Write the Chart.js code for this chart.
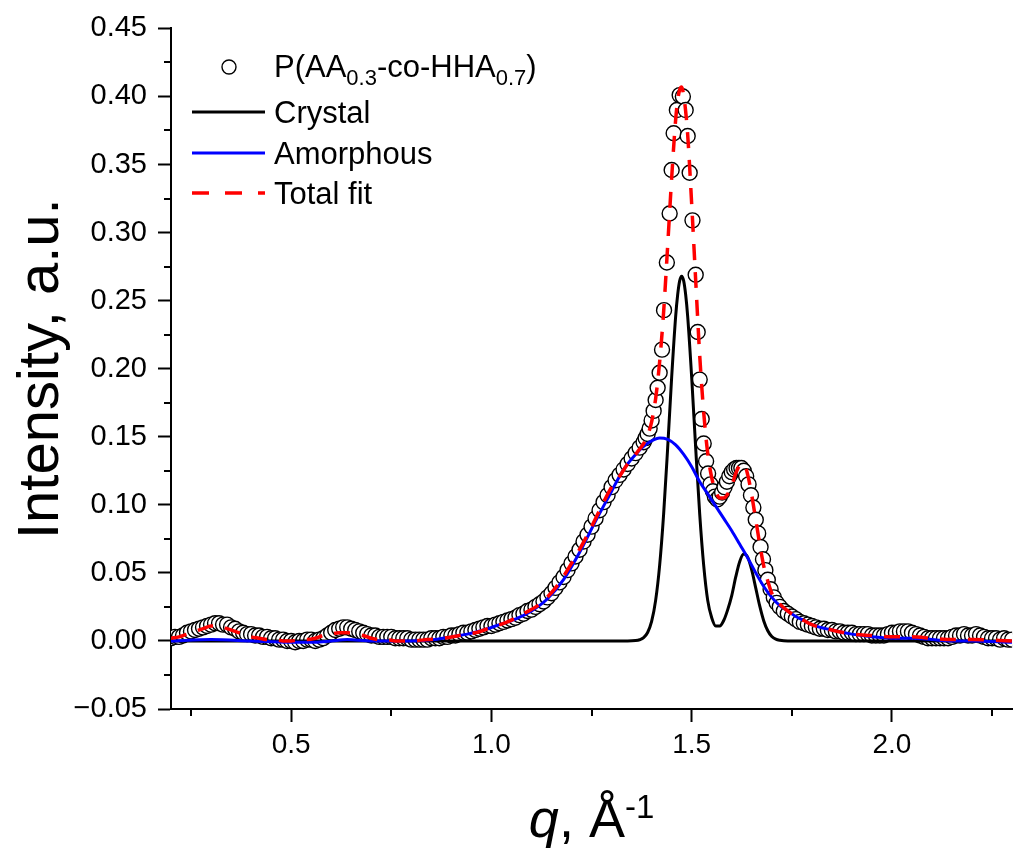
<!DOCTYPE html>
<html>
<head>
<meta charset="utf-8">
<script src="https://cdn.jsdelivr.net/npm/chart.js@4/dist/chart.umd.min.js"></script>
<style>
  html, body { margin: 0; padding: 0; background: #fff; overflow: hidden; }
</style>
</head>
<body>
<canvas id="xrdChart" width="1021" height="848"></canvas>
<script>
// Measured scattering profile (open circles), q in 1/Å
const qData = [
  0.20, 0.21, 0.22, 0.23, 0.24, 0.25, 0.26, 0.27, 0.28, 0.29,
  0.30, 0.31, 0.32, 0.33, 0.34, 0.35, 0.36, 0.37, 0.38, 0.39,
  0.40, 0.41, 0.42, 0.43, 0.44, 0.45, 0.46, 0.47, 0.48, 0.49,
  0.50, 0.51, 0.52, 0.53, 0.54, 0.55, 0.56, 0.57, 0.58, 0.59,
  0.60, 0.61, 0.62, 0.63, 0.64, 0.65, 0.66, 0.67, 0.68, 0.69,
  0.70, 0.71, 0.72, 0.73, 0.74, 0.75, 0.76, 0.77, 0.78, 0.79,
  0.80, 0.81, 0.82, 0.83, 0.84, 0.85, 0.86, 0.87, 0.88, 0.89,
  0.90, 0.91, 0.92, 0.93, 0.94, 0.95, 0.96, 0.97, 0.98, 0.99,
  1.00, 1.01, 1.02, 1.03, 1.04, 1.05, 1.06, 1.07, 1.08, 1.09,
  1.10, 1.11, 1.12, 1.13, 1.14, 1.15, 1.16, 1.17, 1.18, 1.19,
  1.20, 1.21, 1.22, 1.23, 1.24, 1.25, 1.26, 1.27, 1.28, 1.29,
  1.30, 1.31, 1.32, 1.33, 1.34, 1.35, 1.36, 1.37, 1.38,
  1.385, 1.390, 1.395, 1.400, 1.405, 1.410, 1.415, 1.420, 1.426, 1.431,
  1.438, 1.445, 1.450, 1.455, 1.463, 1.470, 1.478, 1.485, 1.490, 1.495,
  1.502, 1.510, 1.515, 1.520, 1.525, 1.530, 1.536, 1.541, 1.547, 1.553,
  1.558, 1.564, 1.570, 1.576, 1.582, 1.588, 1.594, 1.600, 1.606, 1.612,
  1.618, 1.624, 1.630, 1.636, 1.642, 1.648, 1.654, 1.660, 1.666, 1.672,
  1.678, 1.684, 1.690, 1.697, 1.705, 1.712,
  1.72, 1.73, 1.74, 1.75, 1.76, 1.77, 1.78, 1.79, 1.80, 1.81,
  1.82, 1.83, 1.84, 1.85, 1.86, 1.87, 1.88, 1.89, 1.90, 1.91,
  1.92, 1.93, 1.94, 1.95, 1.96, 1.97, 1.98, 1.99, 2.00, 2.01,
  2.02, 2.03, 2.04, 2.05, 2.06, 2.07, 2.08, 2.09, 2.10, 2.11,
  2.12, 2.13, 2.14, 2.15, 2.16, 2.17, 2.18, 2.19, 2.20, 2.21,
  2.22, 2.23, 2.24, 2.25, 2.26, 2.27, 2.28, 2.29, 2.30
];
const intensity = [
  0.002, 0.003, 0.003, 0.004, 0.006, 0.007, 0.008, 0.009, 0.010, 0.011,
  0.012, 0.013, 0.013, 0.012, 0.012, 0.010, 0.009, 0.007, 0.006, 0.005,
  0.005, 0.004, 0.004, 0.003, 0.003, 0.002, 0.002, 0.001, 0.001, 0.000,
  0.000, -0.001, 0.000, 0.000, 0.001, 0.001, 0.000, 0.001, 0.002, 0.004,
  0.006, 0.008, 0.009, 0.010, 0.010, 0.009, 0.008, 0.007, 0.006, 0.005,
  0.004, 0.004, 0.003, 0.003, 0.003, 0.003, 0.002, 0.002, 0.002, 0.002,
  0.001, 0.001, 0.001, 0.001, 0.001, 0.002, 0.002, 0.002, 0.003, 0.003,
  0.004, 0.004, 0.005, 0.006, 0.006, 0.007, 0.008, 0.009, 0.010, 0.011,
  0.011, 0.012, 0.013, 0.014, 0.015, 0.016, 0.017, 0.019, 0.020, 0.022,
  0.023, 0.025, 0.027, 0.029, 0.032, 0.035, 0.039, 0.043, 0.047, 0.052,
  0.057, 0.062, 0.067, 0.073, 0.078, 0.084, 0.090, 0.096, 0.102, 0.107,
  0.113, 0.118, 0.122, 0.126, 0.130, 0.134, 0.138, 0.142, 0.146,
  0.149, 0.152, 0.156, 0.162, 0.169, 0.177, 0.186, 0.197, 0.214, 0.243,
  0.278, 0.314, 0.346, 0.373, 0.390, 0.401, 0.400, 0.390, 0.371, 0.344,
  0.309, 0.269, 0.227, 0.192, 0.163, 0.145, 0.132, 0.123, 0.115, 0.110,
  0.106, 0.104, 0.106, 0.109, 0.113, 0.117, 0.121, 0.124, 0.126, 0.127,
  0.127, 0.127, 0.125, 0.121, 0.115, 0.107, 0.098, 0.089, 0.079, 0.069,
  0.060, 0.052, 0.045, 0.038, 0.032, 0.028,
  0.025, 0.022, 0.020, 0.018, 0.016, 0.014, 0.013, 0.012, 0.011, 0.010,
  0.009, 0.009, 0.008, 0.008, 0.007, 0.007, 0.006, 0.006, 0.006, 0.005,
  0.005, 0.005, 0.005, 0.004, 0.004, 0.004, 0.004, 0.005, 0.006, 0.006,
  0.007, 0.007, 0.007, 0.006, 0.005, 0.004, 0.003, 0.002, 0.002, 0.002,
  0.002, 0.002, 0.002, 0.003, 0.004, 0.004, 0.005, 0.004, 0.004, 0.005,
  0.004, 0.003, 0.002, 0.002, 0.002, 0.001, 0.002, 0.001, 0.001
];

// Crystalline component (two peaks)
const qCrystal = [
  0.20, 1.34, 1.36, 1.37, 1.38, 1.39, 1.40, 1.41, 1.42, 1.43,
  1.44, 1.45, 1.46, 1.465, 1.47, 1.475, 1.48, 1.485, 1.49, 1.50,
  1.51, 1.52, 1.53, 1.54, 1.55, 1.56, 1.57, 1.58, 1.59, 1.60,
  1.61, 1.62, 1.63, 1.64, 1.65, 1.66, 1.67, 1.68, 1.69, 1.70,
  1.71, 1.72, 1.74, 2.30
];
const crystal = [
  0, 0, 0.0003, 0.0009, 0.0024, 0.0062, 0.0143, 0.0298, 0.0555, 0.0934,
  0.1417, 0.1936, 0.2385, 0.2543, 0.2645, 0.268, 0.2645, 0.2543, 0.2385, 0.1936,
  0.1417, 0.0934, 0.0555, 0.0298, 0.017, 0.011, 0.011, 0.015, 0.023, 0.0333,
  0.047, 0.0584, 0.0638, 0.0614, 0.052, 0.0388, 0.0255, 0.0147, 0.0075, 0.0033,
  0.0013, 0.0005, 0, 0
];

// Amorphous halo
const qAmorph = [
  0.20, 0.30, 0.40, 0.50, 0.56, 0.60, 0.64, 0.70, 0.80, 0.86,
  0.90, 0.94, 0.98, 1.02, 1.06, 1.10, 1.14, 1.18, 1.22, 1.26,
  1.30, 1.32, 1.34, 1.36, 1.38, 1.40, 1.42, 1.44, 1.46, 1.48,
  1.50, 1.52, 1.54, 1.56, 1.58, 1.60, 1.62, 1.64, 1.66, 1.68,
  1.70, 1.72, 1.74, 1.76, 1.78, 1.80, 1.85, 1.90, 1.95, 2.00,
  2.05, 2.10, 2.15, 2.20, 2.30
];
const amorph = [
  0.000, 0.001, 0.000, -0.001, -0.001, 0.000, 0.001, 0.000, 0.000, 0.001,
  0.003, 0.005, 0.008, 0.012, 0.016, 0.022, 0.031, 0.045, 0.065, 0.088,
  0.110, 0.121, 0.130, 0.137, 0.143, 0.147, 0.149, 0.148, 0.144, 0.137,
  0.128, 0.117, 0.108, 0.099, 0.090, 0.081, 0.071, 0.061, 0.050, 0.040,
  0.032, 0.026, 0.022, 0.018, 0.015, 0.012, 0.008, 0.005, 0.003, 0.002,
  0.002, 0.001, 0.000, 0.000, -0.001
];

// Total fit
const qFit = [
  0.20, 0.22, 0.24, 0.26, 0.28, 0.30, 0.32, 0.34, 0.36, 0.38,
  0.40, 0.42, 0.44, 0.46, 0.48, 0.50, 0.52, 0.54, 0.56, 0.58,
  0.60, 0.62, 0.64, 0.66, 0.68, 0.70, 0.72, 0.74, 0.76, 0.80,
  0.84, 0.88, 0.92, 0.96, 1.00, 1.04, 1.08, 1.12, 1.16, 1.20,
  1.24, 1.28, 1.30, 1.32, 1.34, 1.36, 1.37, 1.38, 1.39, 1.40,
  1.41, 1.42, 1.43, 1.44, 1.45, 1.46, 1.465, 1.47, 1.475, 1.48,
  1.485, 1.49, 1.50, 1.51, 1.52, 1.53, 1.54, 1.55, 1.56, 1.57,
  1.58, 1.59, 1.60, 1.61, 1.62, 1.63, 1.64, 1.65, 1.66, 1.67,
  1.68, 1.69, 1.70, 1.72, 1.74, 1.76, 1.78, 1.80, 1.85, 1.90,
  1.95, 2.00, 2.05, 2.10, 2.15, 2.20, 2.30
];
const totalFit = [
  0.002, 0.003, 0.005, 0.007, 0.009, 0.011, 0.011, 0.009, 0.007, 0.005,
  0.003, 0.002, 0.001, 0.001, 0.000, 0.000, 0.001, 0.001, 0.002, 0.004,
  0.005, 0.006, 0.006, 0.005, 0.004, 0.002, 0.001, 0.001, 0.000, 0.000,
  0.001, 0.002, 0.004, 0.006, 0.010, 0.014, 0.020, 0.027, 0.039, 0.057,
  0.078, 0.102, 0.113, 0.121, 0.130, 0.137, 0.141, 0.145, 0.151, 0.161,
  0.178, 0.205, 0.242, 0.290, 0.340, 0.383, 0.397, 0.405, 0.407, 0.401,
  0.389, 0.372, 0.321, 0.265, 0.210, 0.168, 0.138, 0.120, 0.110, 0.105,
  0.105, 0.108, 0.114, 0.123, 0.129, 0.130, 0.122, 0.107, 0.089, 0.071,
  0.055, 0.044, 0.035, 0.027, 0.022, 0.018, 0.015, 0.012, 0.008, 0.005,
  0.004, 0.003, 0.003, 0.002, 0.001, 0.001, 0.000
];

// Axis ticks
const xMajorTicks = [0.5, 1.0, 1.5, 2.0];
const xMinorTicks = [0.25, 0.75, 1.25, 1.75, 2.25];
const yMajorTicks = [-0.05, 0.00, 0.05, 0.10, 0.15, 0.20, 0.25, 0.30, 0.35, 0.40, 0.45];
const yMinorTicks = [-0.025, 0.025, 0.075, 0.125, 0.175, 0.225, 0.275, 0.325, 0.375, 0.425];

const FONT = "'Liberation Sans', Arial, Helvetica, sans-serif";
const font = (size, style) => (style ? style + " " : "") + size + "px " + FONT;

const toPoints = (qs, ys) => qs.map((q, i) => ({ x: q, y: ys[i] }));

// Minor ticks, axis titles and the legend (with sub/superscripts)
const decorPlugin = {
  id: "decor",
  afterDraw(chart) {
    const ctx = chart.ctx;
    const xs = chart.scales.x;
    const ys = chart.scales.y;
    const area = chart.chartArea;
    ctx.save();

    // minor ticks
    ctx.strokeStyle = "#000";
    ctx.lineWidth = 2;
    ctx.beginPath();
    xMinorTicks.forEach((v) => {
      const px = Math.round(xs.getPixelForValue(v));
      ctx.moveTo(px, area.bottom);
      ctx.lineTo(px, area.bottom + 7);
    });
    yMinorTicks.forEach((v) => {
      const py = Math.round(ys.getPixelForValue(v));
      ctx.moveTo(area.left, py);
      ctx.lineTo(area.left - 7, py);
    });
    ctx.stroke();

    ctx.fillStyle = "#000";
    ctx.textBaseline = "alphabetic";

    // y title
    ctx.save();
    ctx.translate(58, (area.top + area.bottom) / 2);
    ctx.rotate(-Math.PI / 2);
    ctx.textAlign = "center";
    ctx.font = font(58);
    ctx.fillText("Intensity, a.u.", 0, 0);
    ctx.restore();

    // x title: q, Å^-1
    ctx.textAlign = "left";
    const xParts = [
      { t: "q", f: font(54, "italic"), dy: 0 },
      { t: ", ", f: font(54), dy: 0 },
      { t: "Å", f: font(54), dy: 0 },
      { t: "-1", f: font(33), dy: -19 }
    ];
    let w = 0;
    xParts.forEach((p) => { ctx.font = p.f; w += ctx.measureText(p.t).width; });
    let tx = (area.left + area.right) / 2 - w / 2;
    xParts.forEach((p) => {
      ctx.font = p.f;
      ctx.fillText(p.t, tx, 837 + p.dy);
      tx += ctx.measureText(p.t).width;
    });

    // legend: measured data symbol
    ctx.beginPath();
    ctx.arc(229, 67, 7, 0, Math.PI * 2);
    ctx.fillStyle = "#fff";
    ctx.fill();
    ctx.lineWidth = 1.4;
    ctx.strokeStyle = "#000";
    ctx.stroke();
    ctx.fillStyle = "#000";
    const nameParts = [
      { t: "P(AA", sub: false }, { t: "0.3", sub: true },
      { t: "-co-HHA", sub: false }, { t: "0.7", sub: true }, { t: ")", sub: false }
    ];
    let lx = 274;
    nameParts.forEach((p) => {
      ctx.font = p.sub ? font(22) : font(31);
      ctx.fillText(p.t, lx, p.sub ? 85 : 77);
      lx += ctx.measureText(p.t).width;
    });

    // legend: line entries
    const rows = [
      { label: "Crystal", color: "#000000", dash: [], width: 3, y: 112 },
      { label: "Amorphous", color: "#0000ff", dash: [], width: 3, y: 153 },
      { label: "Total fit", color: "#ff0000", dash: [17, 16], width: 3.5, y: 193 }
    ];
    rows.forEach((r) => {
      ctx.beginPath();
      ctx.setLineDash(r.dash);
      ctx.strokeStyle = r.color;
      ctx.lineWidth = r.width;
      ctx.moveTo(192, r.y);
      ctx.lineTo(265, r.y);
      ctx.stroke();
      ctx.setLineDash([]);
      ctx.font = font(31);
      ctx.fillText(r.label, 274, r.y + 11);
    });

    ctx.restore();
  }
};

const ctx = document.getElementById("xrdChart").getContext("2d");

const myChart = new Chart(ctx, {
  type: "scatter",
  data: {
    datasets: [
      {
        label: "P(AA0.3-co-HHA0.7)",
        data: toPoints(qData, intensity),
        showLine: false,
        pointRadius: 7.5,
        pointBorderWidth: 1.4,
        pointBackgroundColor: "#ffffff",
        pointBorderColor: "#000000",
        clip: 0,
        order: 3
      },
      {
        label: "Crystal",
        data: toPoints(qCrystal, crystal),
        showLine: true,
        pointRadius: 0,
        borderColor: "#000000",
        borderWidth: 3,
        cubicInterpolationMode: "monotone",
        clip: 0,
        order: 2
      },
      {
        label: "Amorphous",
        data: toPoints(qAmorph, amorph),
        showLine: true,
        pointRadius: 0,
        borderColor: "#0000ff",
        borderWidth: 3,
        cubicInterpolationMode: "monotone",
        clip: 0,
        order: 1
      },
      {
        label: "Total fit",
        data: toPoints(qFit, totalFit),
        showLine: true,
        pointRadius: 0,
        borderColor: "#ff0000",
        borderWidth: 3.5,
        borderDash: [16, 12],
        cubicInterpolationMode: "monotone",
        clip: 0,
        order: 0
      }
    ]
  },
  options: {
    responsive: false,
    devicePixelRatio: 1,
    animation: false,
    events: [],
    layout: { padding: { top: 25, left: 0, right: 1, bottom: 0 } },
    plugins: {
      legend: { display: false },
      tooltip: { enabled: false }
    },
    scales: {
      x: {
        type: "linear",
        min: 0.2,
        max: 2.3,
        afterBuildTicks: (scale) => { scale.ticks = xMajorTicks.map((v) => ({ value: v })); },
        afterFit: (scale) => { scale.height = 139; },
        ticks: {
          color: "#000",
          font: { family: FONT, size: 28 },
          padding: 6,
          maxRotation: 0,
          callback: (v) => v.toFixed(1)
        },
        grid: {
          display: true,
          drawOnChartArea: false,
          drawTicks: true,
          tickLength: 13,
          tickWidth: 2,
          tickColor: "#000"
        },
        border: { display: true, color: "#000", width: 2 }
      },
      y: {
        type: "linear",
        min: -0.05,
        max: 0.45,
        afterBuildTicks: (scale) => { scale.ticks = yMajorTicks.map((v) => ({ value: v })); },
        afterFit: (scale) => { scale.width = 171; },
        ticks: {
          color: "#000",
          font: { family: FONT, size: 29 },
          padding: 11,
          callback: (v) => (v < 0 ? "\u2212" + Math.abs(v).toFixed(2) : v.toFixed(2))
        },
        grid: {
          display: true,
          drawOnChartArea: false,
          drawTicks: true,
          tickLength: 13,
          tickWidth: 2,
          tickColor: "#000"
        },
        border: { display: true, color: "#000", width: 2 }
      }
    }
  },
  plugins: [decorPlugin]
});
</script>
</body>
</html>
